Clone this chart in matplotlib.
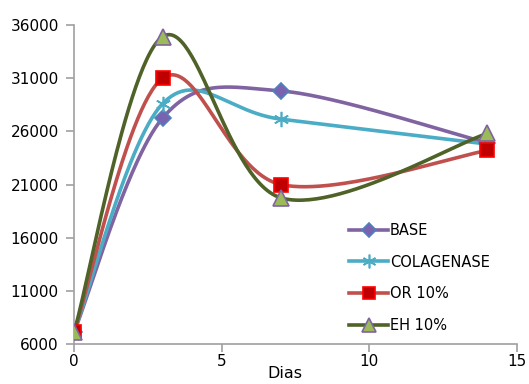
import numpy as np
import matplotlib
matplotlib.use("Agg")
import matplotlib.pyplot as plt
from matplotlib.lines import Line2D

dias = [0, 3, 7, 14]
base = [7100, 27250, 29800, 24900]
colagenase = [7100, 28600, 27150, 24800]
or10 = [7100, 31000, 21000, 24200]
eh10 = [7100, 34900, 19750, 25800]
labels = ["BASE", "COLAGENASE", "OR 10%", "EH 10%"]


def smooth(xs, ys, n=60):
    """Cubic Bezier smoothing through the points (Catmull-Rom style)."""
    p = np.column_stack([xs, ys]).astype(float)
    ext = np.vstack([p[0], p, p[-1]])
    t = np.linspace(0, 1, n)[:, None]
    out = []
    for i in range(len(p) - 1):
        p0, p1, p2, p3 = ext[i], ext[i + 1], ext[i + 2], ext[i + 3]
        c1 = p1 + (p2 - p0) / 6
        c2 = p2 - (p3 - p1) / 6
        seg = ((1 - t) ** 3) * p1 + 3 * ((1 - t) ** 2) * t * c1 + 3 * (1 - t) * t ** 2 * c2 + t ** 3 * p2
        out.append(seg if i == 0 else seg[1:])
    s = np.vstack(out)
    return s[:, 0], s[:, 1]


styles = [
    dict(color="#8064A2", marker="D", mfc="#7B62B0", mec="#4F81BD", ms=8),
    dict(color="#4BACC6", marker=(6, 2, 0), mfc="#4BACC6", mec="#4BACC6", ms=11),
    dict(color="#C0504D", marker="s", mfc="#C00000", mec="#FF0000", ms=10),
    dict(color="#4F6228", marker="^", mfc="#9BBB59", mec="#8064A2", ms=11),
]

fig = plt.figure(figsize=(5.29, 3.84), dpi=100)
ax = fig.add_axes([74 / 529, 40 / 384, (517 - 74) / 529, (344 - 25) / 384])

handles = []
for ys, st, lab in zip([base, colagenase, or10, eh10], styles, labels):
    sx, sy = smooth(dias, ys)
    ax.plot(sx, sy, color=st["color"], lw=2.6, solid_capstyle="round", zorder=2)
    ax.plot(dias, ys, ls="none", marker=st["marker"], markerfacecolor=st["mfc"],
            markeredgecolor=st["mec"], markersize=st["ms"], markeredgewidth=1.2, zorder=3)
    handles.append(Line2D([0], [0], color=st["color"], lw=2.6, marker=st["marker"],
                          markerfacecolor=st["mfc"], markeredgecolor=st["mec"],
                          markersize=st["ms"] * 0.9, markeredgewidth=1.2))

ax.set_xlim(0, 15)
ax.set_ylim(6000, 36000)
ax.set_xticks([0, 5, 10, 15])
ax.set_yticks(np.arange(6000, 36001, 5000))
for s in ["top", "right"]:
    ax.spines[s].set_visible(False)
for s in ["left", "bottom"]:
    ax.spines[s].set_color("#A0A0A0")
    ax.spines[s].set_linewidth(1.2)
ax.tick_params(axis="both", colors="#A0A0A0", length=6, width=1.2, labelsize=11,
               labelcolor="black")
ax.tick_params(axis="x", pad=1)
ax.tick_params(axis="y", pad=5)

ax.set_xlabel("Dias", fontsize=11.5)
ax.xaxis.set_label_coords((285 - 74) / (517 - 74), -0.068)

leg = ax.legend(handles, labels, loc="upper left",
                bbox_to_anchor=((343 - 74) / (517 - 74), (344 - 217) / (344 - 25)),
                frameon=False, fontsize=10.5, handlelength=2.7, handletextpad=0.1,
                labelspacing=1.15, borderaxespad=0)

fig.savefig("out.png", dpi=100)
